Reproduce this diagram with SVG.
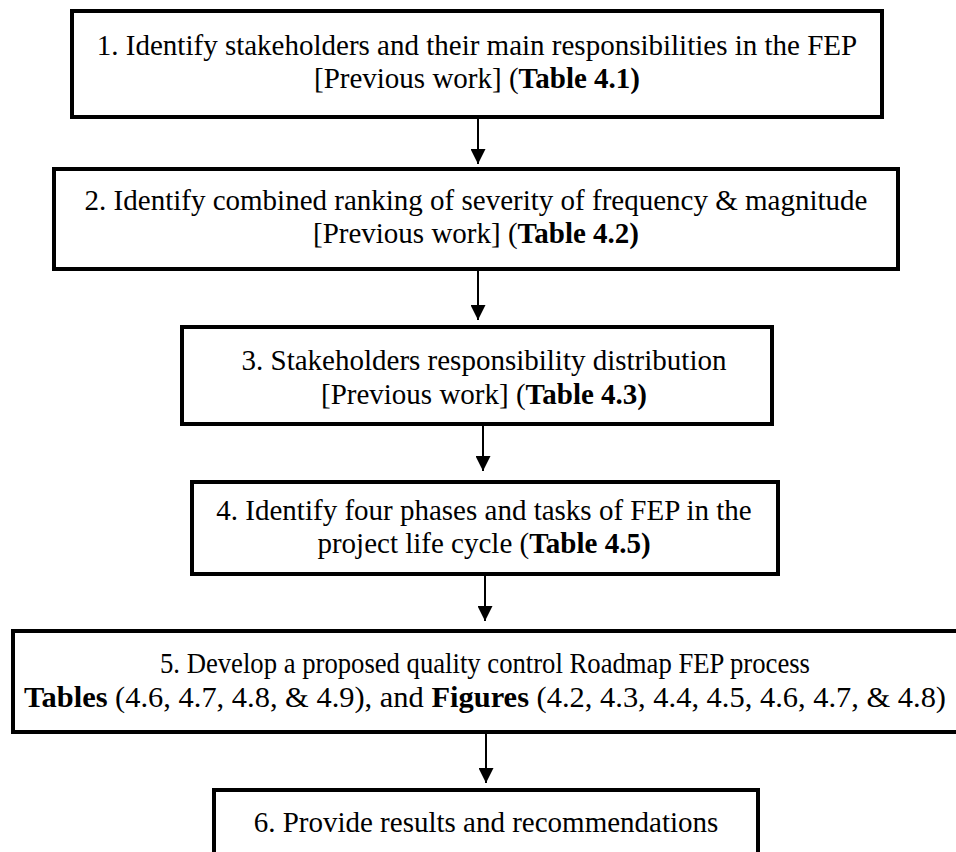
<svg xmlns="http://www.w3.org/2000/svg" width="956" height="852" viewBox="0 0 956 852">
  <defs>
    <marker id="ah" markerUnits="userSpaceOnUse" viewBox="0 0 15 15" refX="15" refY="7.5" markerWidth="15" markerHeight="15" orient="auto">
      <path d="M0,0 L15,7.5 L0,15 z" fill="#000"/>
    </marker>
    <style>
      .box { fill: #fff; stroke: #000; stroke-width: 4; }
      .t { font-family: "Liberation Serif", "Times New Roman", serif; font-size: 29px; fill: #000; text-anchor: middle; }
      .b { font-weight: bold; }
      .conn line { stroke: #000; stroke-width: 2; marker-end: url(#ah); }
    </style>
  </defs>
  <rect width="956" height="852" fill="#fff"/>

  <g id="connectors" class="conn">
    <line x1="478" y1="119" x2="478" y2="164"/>
    <line x1="478" y1="271" x2="478" y2="320"/>
    <line x1="483" y1="426" x2="483" y2="471"/>
    <line x1="485" y1="576" x2="485" y2="621"/>
    <line x1="486" y1="734" x2="486" y2="783"/>
  </g>

  <g id="node1">
    <rect class="box" x="72" y="11" width="810" height="106"/>
    <text class="t" x="477" y="55">1. Identify stakeholders and their main responsibilities in the FEP</text>
    <text class="t" x="477" y="88">[Previous work] (<tspan class="b">Table 4.1)</tspan></text>
  </g>

  <g id="node2">
    <rect class="box" x="54" y="169" width="844" height="100"/>
    <text class="t" x="476" y="210">2. Identify combined ranking of severity of frequency &amp; magnitude</text>
    <text class="t" x="476" y="243">[Previous work] (<tspan class="b">Table 4.2)</tspan></text>
  </g>

  <g id="node3">
    <rect class="box" x="182" y="327" width="590" height="97"/>
    <text class="t" x="484" y="370">3. Stakeholders responsibility distribution</text>
    <text class="t" x="484" y="404">[Previous work] (<tspan class="b">Table 4.3)</tspan></text>
  </g>

  <g id="node4">
    <rect class="box" x="192" y="482" width="586" height="92"/>
    <text class="t" x="484" y="520">4. Identify four phases and tasks of FEP in the</text>
    <text class="t" x="484" y="553">project life cycle (<tspan class="b">Table 4.5)</tspan></text>
  </g>

  <g id="node5">
    <rect class="box" x="13" y="631" width="950" height="101"/>
    <text class="t" x="485" y="673" textLength="650" lengthAdjust="spacingAndGlyphs">5. Develop a proposed quality control Roadmap FEP process</text>
    <text class="t" x="485" y="707" textLength="922" lengthAdjust="spacingAndGlyphs"><tspan class="b">Tables</tspan> (4.6, 4.7, 4.8, &amp; 4.9), and <tspan class="b">Figures</tspan> (4.2, 4.3, 4.4, 4.5, 4.6, 4.7, &amp; 4.8)</text>
  </g>

  <g id="node6">
    <rect class="box" x="214" y="790" width="544" height="100"/>
    <text class="t" x="486" y="832">6. Provide results and recommendations</text>
  </g>
</svg>
